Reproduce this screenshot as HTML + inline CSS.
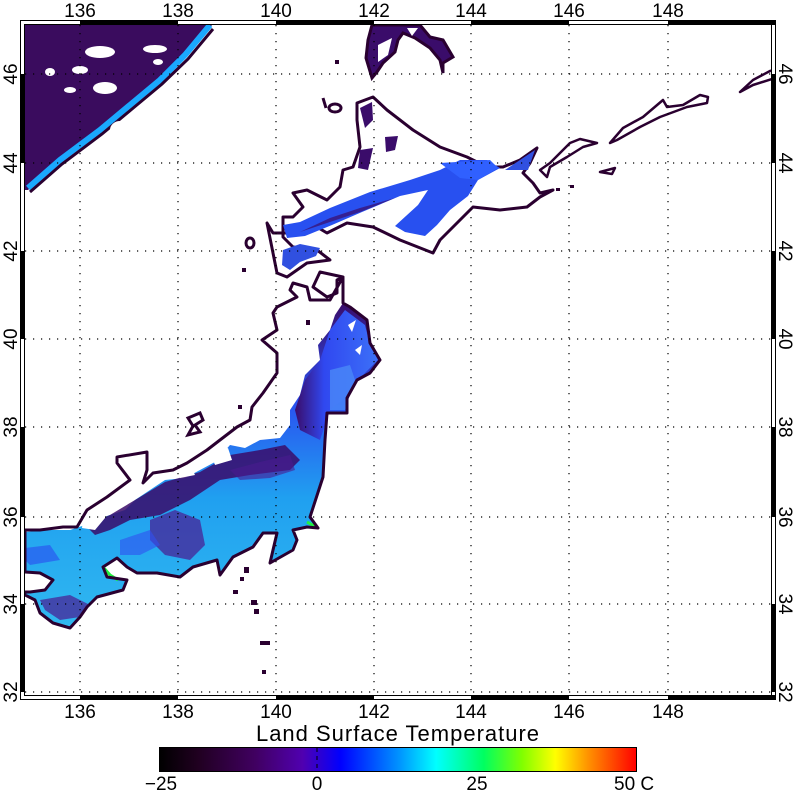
<!DOCTYPE html>
<html><head><meta charset="utf-8"><style>
html,body{margin:0;padding:0;background:#fff;width:796px;height:796px;overflow:hidden}
svg{display:block}
text{font-family:"Liberation Sans",sans-serif;font-size:19px;fill:#000}
</style></head><body>
<svg width="796" height="796" viewBox="0 0 796 796" xmlns="http://www.w3.org/2000/svg">
<defs>
<linearGradient id="cb" x1="0" x2="1" y1="0" y2="0">
<stop offset="0" stop-color="#000"/>
<stop offset="0.08" stop-color="#200020"/>
<stop offset="0.2" stop-color="#400060"/>
<stop offset="0.3" stop-color="#5000b0"/>
<stop offset="0.38" stop-color="#0000ff"/>
<stop offset="0.5" stop-color="#0090ff"/>
<stop offset="0.58" stop-color="#00ffff"/>
<stop offset="0.68" stop-color="#00ff60"/>
<stop offset="0.76" stop-color="#80ff00"/>
<stop offset="0.83" stop-color="#ffff00"/>
<stop offset="0.9" stop-color="#ff9000"/>
<stop offset="1" stop-color="#ff0000"/>
</linearGradient>
<linearGradient id="hon" x1="0" y1="0" x2="0" y2="1">
<stop offset="0" stop-color="#3a0c6a"/>
<stop offset="0.3" stop-color="#2a50f0"/>
<stop offset="0.6" stop-color="#20a0f0"/>
<stop offset="1" stop-color="#30b8f0"/>
</linearGradient>
<linearGradient id="toh" x1="0" y1="0" x2="1" y2="0">
<stop offset="0" stop-color="#3a0c6a"/>
<stop offset="0.35" stop-color="#3048f0"/>
<stop offset="1" stop-color="#3c70f8"/>
</linearGradient>
<clipPath id="mc"><rect x="25" y="25" width="746" height="670"/></clipPath>
</defs>

<g clip-path="url(#mc)">
<polygon points="25,25 212,25 200,40 185,57 160,82 130,107 100,132 60,162 28,190 25,190" fill="#3a0c5e"/>
<polyline points="28,188 60,160 100,130 130,105 160,80 185,55 210,25" fill="none" stroke="#1aa8ff" stroke-width="6"/>
<polyline points="30,192 62,164 102,134 132,109 162,84 188,59 213,29" fill="none" stroke="#2a0030" stroke-width="3"/>
<g fill="#fff">
<ellipse cx="100" cy="52" rx="15" ry="6"/><ellipse cx="155" cy="49" rx="12" ry="4"/>
<ellipse cx="105" cy="88" rx="12" ry="6"/><ellipse cx="120" cy="130" rx="10" ry="9"/>
<ellipse cx="50" cy="72" rx="5" ry="4"/><ellipse cx="80" cy="70" rx="8" ry="4"/>
<ellipse cx="70" cy="90" rx="6" ry="3"/><ellipse cx="158" cy="62" rx="5" ry="3"/>
</g>

<polygon points="372,25 420,25 430,37 443,40 453,57 443,63 443,73 440,60 430,48 415,38 403,33 398,40 395,52 383,63 377,72 372,78 366,58 368,40" fill="#3a0c6a" stroke="#2a0030" stroke-width="3"/>
<polygon points="378,45 392,38 388,55 378,62" fill="#fff"/>
<polygon points="407,28 418,28 412,36" fill="#fff"/>

<polygon points="373,97 387,110 413,130 440,147 467,157 487,167 503,167 520,160 537,148 530,163 523,173 533,183 540,193 553,190 540,197 527,207 500,210 473,207 453,227 440,240 433,253 400,240 373,227 347,223 327,233 317,227 293,227 287,233 273,233 267,223 273,253 277,273 287,277 307,263 330,260 317,250 293,247 283,237 283,217 293,217 303,207 293,193 307,190 327,200 340,187 343,170 353,167 360,147 357,120 357,103" fill="#fff" stroke="#2a0030" stroke-width="3" stroke-linejoin="round"/>
<polygon points="283,225 300,222 330,208 370,192 410,180 440,170 460,160 487,160 500,168 478,180 468,196 450,210 437,225 425,236 405,232 395,226 418,205 428,190 400,196 362,212 332,225 305,236 287,238" fill="#2850f0"/>
<polygon points="440,163 490,160 498,168 478,180 460,178" fill="#3060ff"/>
<polygon points="300,232 330,222 360,212 395,198 360,208 330,218" fill="#3a0c6a" opacity="0.7"/>
<polygon points="283,250 300,244 320,248 316,256 300,262 290,270 282,265" fill="#3050e0"/>
<polygon points="360,108 372,102 373,120 365,128" fill="#3a0c6a"/>
<polygon points="385,137 398,136 395,150 386,152" fill="#3a0c6a"/>
<polygon points="360,150 373,148 368,170 358,168" fill="#3a0c6a"/>
<polygon points="505,170 535,150 528,170" fill="#3050e0"/>
<ellipse cx="335" cy="108" rx="6" ry="4" fill="none" stroke="#2a0030" stroke-width="3"/>
<polyline points="323,98 326,108" stroke="#2a0030" stroke-width="3"/>
<ellipse cx="250" cy="243" rx="4" ry="5" fill="none" stroke="#2a0030" stroke-width="3"/>
<rect x="335" y="60" width="4" height="4" fill="#2a0030"/>
<rect x="242" y="268" width="4" height="4" fill="#2a0030"/>

<g fill="none" stroke="#2a0030" stroke-width="2.5" stroke-linejoin="round">
<polygon points="540,170 550,163 570,143 580,139 597,143 583,147 567,157 550,167 547,177"/>
<polygon points="610,143 623,128 643,117 663,100 667,107 683,105 700,95 708,97 707,103 687,107 660,117 640,127 617,140"/>
<polygon points="740,92 753,80 770,71 775,70 775,78 753,85"/>
<polygon points="600,172 615,168 612,174"/>
</g>
<rect x="556" y="188" width="4" height="3" fill="#2a0030"/>
<rect x="570" y="185" width="4" height="3" fill="#2a0030"/>

<polygon points="25,532 50,530 70,530 85,525 95,520 110,515 125,510 135,500 150,490 165,480 185,478 200,470 215,462 230,445 245,448 260,440 280,438 290,425 290,410 300,395 305,375 320,360 318,345 330,330 335,315 343,303 350,307 367,320 370,343 380,360 370,373 357,380 347,398 347,413 327,413 325,440 323,477 310,517 318,528 307,527 293,530 297,540 293,550 270,563 273,550 277,533 263,533 253,547 233,557 220,575 217,560 193,567 180,577 157,573 137,573 127,567 117,558 103,567 107,577 127,580 123,590 97,597 87,607 80,617 70,628 53,623 40,613 35,600 25,595" fill="url(#hon)"/>
<polygon points="330,330 345,310 365,325 370,345 378,360 360,378 345,398 330,410 320,440 300,430 295,410 305,380 320,360" fill="url(#toh)"/>
<polygon points="330,370 350,365 355,380 345,410 330,410" fill="#4a88f8" opacity="0.8"/>
<polygon points="135,500 165,482 200,472 230,455 260,450 285,445 300,460 290,470 250,475 220,480 190,500 160,515 130,520 110,530 95,535 85,525 110,515" fill="#3a0c6a" opacity="0.85"/>
<polygon points="150,520 175,510 200,520 205,545 190,560 165,555 150,540" fill="#4a1a90" opacity="0.7"/>
<polygon points="40,600 70,595 90,605 80,617 60,620 45,610" fill="#4a1a90" opacity="0.7"/>
<polygon points="120,540 150,530 160,545 140,555 120,555" fill="#3050f0" opacity="0.6"/>
<polygon points="230,470 260,462 290,455 295,470 270,478 240,480" fill="#4a1a90" opacity="0.6"/>
<polygon points="25,548 50,545 60,560 30,565 25,560" fill="#2a58f0" opacity="0.7"/>
<polyline points="103,567 110,575 118,580" stroke="#20f040" stroke-width="3" fill="none"/>
<polyline points="307,522 316,527" stroke="#20f040" stroke-width="3" fill="none"/>
<polygon points="85,505 100,498 110,505 105,518 95,530 82,528" fill="#fff"/>
<polygon points="110,480 125,475 128,490 115,492" fill="#fff"/>
<polygon points="210,452 228,448 232,460 215,465" fill="#fff"/>
<polygon points="175,470 190,465 195,475 180,478" fill="#fff"/>
<polygon points="25,572 40,573 53,580 45,590 30,592 25,592" fill="#fff"/>
<polygon points="348,325 356,320 352,332" fill="#fff"/>
<polygon points="355,350 362,345 360,355" fill="#fff"/>
<polygon points="343,277 337,280 337,293 327,297 313,287 320,272 343,277 343,303 350,307 367,320 370,343 380,360 370,373 357,380 347,398 347,413 327,413 325,440 323,477 310,517 318,528 307,527 293,530 297,540 293,550 270,563 273,550 277,533 263,533 253,547 233,557 220,575 217,560 193,567 180,577 157,573 137,573 127,567 117,558 103,567 107,577 127,580 123,590 97,597 87,607 80,617 70,628 53,623 40,613 35,600 25,595 25,592 30,592 45,590 53,580 40,573 25,572 25,530 40,530 63,527 77,527 87,510 107,497 130,480 117,463 117,457 147,452 147,470 143,483 153,473 173,470 187,463 207,450 220,440 237,427 250,420 252,407 263,393 277,373 277,353 262,340 277,330 273,313 277,307 297,297 290,290 293,283 307,287 310,300 330,300" fill="none" stroke="#2a0030" stroke-width="3" stroke-linejoin="round"/>
<polygon points="188,418 200,413 203,420 195,425 200,432 188,435 193,426" fill="none" stroke="#2a0030" stroke-width="3"/>
<rect x="306" y="320" width="4" height="5" fill="#2a0030"/>
<rect x="238" y="405" width="4" height="4" fill="#2a0030"/>
<g fill="#2a0030">
<rect x="244" y="567" width="5" height="6"/><rect x="240" y="577" width="4" height="4"/>
<rect x="233" y="590" width="5" height="4"/><rect x="251" y="600" width="6" height="5"/>
<rect x="254" y="609" width="5" height="5"/><rect x="260" y="641" width="10" height="4"/>
<rect x="262" y="670" width="4" height="4"/>
</g>
</g>

<g stroke="#000" stroke-width="1.2" stroke-dasharray="1.2 6.8">
<line x1="80" y1="25" x2="80" y2="695"/><line x1="178" y1="25" x2="178" y2="695"/>
<line x1="276" y1="25" x2="276" y2="695"/><line x1="374" y1="25" x2="374" y2="695"/>
<line x1="471" y1="25" x2="471" y2="695"/><line x1="569" y1="25" x2="569" y2="695"/>
<line x1="668" y1="25" x2="668" y2="695"/>
<line x1="25" y1="74" x2="771" y2="74"/><line x1="25" y1="163" x2="771" y2="163"/>
<line x1="25" y1="251" x2="771" y2="251"/><line x1="25" y1="339" x2="771" y2="339"/>
<line x1="25" y1="427" x2="771" y2="427"/><line x1="25" y1="517" x2="771" y2="517"/>
<line x1="25" y1="604" x2="771" y2="604"/><line x1="25" y1="692" x2="771" y2="692"/>
</g>

<g fill="#000">
<rect x="80" y="20" width="98" height="5"/><rect x="276" y="20" width="98" height="5"/>
<rect x="471" y="20" width="98" height="5"/><rect x="668" y="20" width="108" height="5"/>
<rect x="80" y="695" width="98" height="5"/><rect x="276" y="695" width="98" height="5"/>
<rect x="471" y="695" width="98" height="5"/><rect x="668" y="695" width="108" height="5"/>
<rect x="20" y="74" width="5" height="89"/><rect x="20" y="251" width="5" height="88"/>
<rect x="20" y="427" width="5" height="90"/><rect x="20" y="604" width="5" height="88"/>
<rect x="771" y="74" width="5" height="89"/><rect x="771" y="251" width="5" height="88"/>
<rect x="771" y="427" width="5" height="90"/><rect x="771" y="604" width="5" height="88"/>
</g>
<rect x="20.5" y="20.5" width="755" height="679" fill="none" stroke="#000" stroke-width="1"/>
<rect x="24.5" y="24.5" width="747" height="671" fill="none" stroke="#000" stroke-width="1"/>

<g text-anchor="middle">
<text x="80" y="17">136</text><text x="178" y="17">138</text><text x="276" y="17">140</text>
<text x="374" y="17">142</text><text x="471" y="17">144</text><text x="569" y="17">146</text><text x="668" y="17">148</text>
<text x="80" y="718">136</text><text x="178" y="718">138</text><text x="276" y="718">140</text>
<text x="374" y="718">142</text><text x="471" y="718">144</text><text x="569" y="718">146</text><text x="668" y="718">148</text>
<g transform="translate(17,0)">
<text transform="translate(0,74) rotate(-90)">46</text><text transform="translate(0,163) rotate(-90)">44</text>
<text transform="translate(0,251) rotate(-90)">42</text><text transform="translate(0,339) rotate(-90)">40</text>
<text transform="translate(0,427) rotate(-90)">38</text><text transform="translate(0,517) rotate(-90)">36</text>
<text transform="translate(0,604) rotate(-90)">34</text><text transform="translate(0,692) rotate(-90)">32</text>
</g>
<g transform="translate(779,0)">
<text transform="translate(0,74) rotate(90)">46</text><text transform="translate(0,163) rotate(90)">44</text>
<text transform="translate(0,251) rotate(90)">42</text><text transform="translate(0,339) rotate(90)">40</text>
<text transform="translate(0,427) rotate(90)">38</text><text transform="translate(0,517) rotate(90)">36</text>
<text transform="translate(0,604) rotate(90)">34</text><text transform="translate(0,692) rotate(90)">32</text>
</g>
<text x="398" y="741" style="font-size:22px;letter-spacing:1px">Land Surface Temperature</text>
</g>

<rect x="159.5" y="747.5" width="477" height="24" fill="url(#cb)" stroke="#000" stroke-width="1"/>
<line x1="317" y1="748" x2="317" y2="771" stroke="#000" stroke-dasharray="4 4"/>
<g text-anchor="middle">
<text x="161" y="790">−25</text><text x="317" y="790">0</text><text x="477" y="790">25</text>
</g>
<text x="614" y="790">50 C</text>
</svg>
</body></html>
